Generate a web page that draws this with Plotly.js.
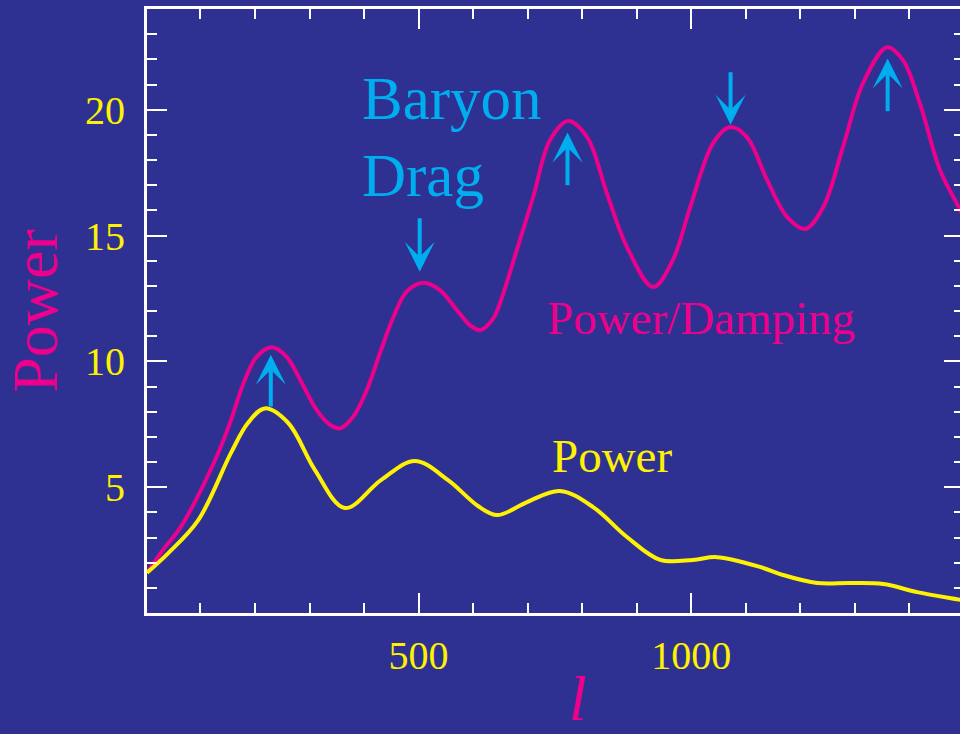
<!DOCTYPE html>
<html><head><meta charset="utf-8">
<script src="https://cdn.plot.ly/plotly-3.0.1.min.js"></script>
<style>html,body{margin:0;padding:0;overflow:hidden;background:#2e3192;width:960px;height:734px}</style>
</head><body><div id="chart" style="width:964px;height:734px"></div>
<script>
// Power / Damping curve (magenta)
const ellDamped = [2, 31, 64, 127, 154, 179, 203, 231, 258, 283, 313, 338, 356, 380, 405, 429, 454, 478, 509, 539, 570, 594, 613, 637, 649, 680, 710, 741, 774, 809, 845, 882, 930, 966, 998, 1040, 1071, 1102, 1139, 1176, 1209, 1242, 1278, 1315, 1359, 1388, 1419, 1456, 1493, 1500];
const powerDamped = [1.6, 2.5, 3.42, 6.08, 7.54, 9.13, 10.18, 10.56, 10.18, 9.26, 8.07, 7.47, 7.34, 7.80, 8.86, 10.32, 11.77, 12.77, 13.12, 12.83, 12.04, 11.44, 11.24, 11.71, 12.30, 14.42, 16.53, 18.79, 19.55, 18.91, 16.69, 14.54, 12.95, 14.02, 16.13, 18.67, 19.31, 18.91, 17.20, 15.73, 15.26, 16.13, 18.51, 21.06, 22.48, 21.97, 20.26, 17.60, 16.02, 15.7];
// Power curve (yellow)
const ellPower = [2, 41, 96, 156, 187, 218, 261, 310, 365, 431, 493, 554, 609, 644, 699, 759, 820, 882, 943, 1003, 1047, 1126, 1168, 1231, 1291, 1352, 1414, 1493, 1500];
const power = [1.6, 2.38, 3.69, 6.36, 7.55, 8.13, 7.55, 5.68, 4.17, 5.28, 6.04, 5.28, 4.25, 3.89, 4.41, 4.85, 4.21, 3.02, 2.11, 2.11, 2.22, 1.83, 1.51, 1.19, 1.19, 1.15, 0.83, 0.52, 0.49];
// tick labels
const xTickVals = [500, 1000];
const yTickVals = [5, 10, 15, 20];
// arrow markers at the peaks (l, tip value, tail value)
const arrowL = [229, 502, 773, 1072, 1360];
const arrowTip = [10.26, 13.56, 19.09, 19.40, 22.03];
const arrowTail = [8.15, 15.75, 16.94, 21.55, 19.88];

const MAG = '#ec008c', YEL = '#fff200', CYAN = '#00aeef', BG = '#2e3192';
const FONT = 'Liberation Serif, Times New Roman, serif';

const traces = [
  {x: ellDamped, y: powerDamped, type: 'scatter', mode: 'lines', name: 'Power/Damping',
   line: {color: MAG, width: 4, shape: 'spline', smoothing: 1}},
  {x: ellPower, y: power, type: 'scatter', mode: 'lines', name: 'Power',
   line: {color: YEL, width: 4, shape: 'spline', smoothing: 1}}
];

const annotations = arrowL.map((l, i) => ({
  x: l, y: arrowTip[i], ax: l, ay: arrowTail[i], axref: 'x', ayref: 'y', xref: 'x', yref: 'y',
  text: '', showarrow: true, arrowhead: 3, arrowsize: 1.25, arrowwidth: 4, arrowcolor: CYAN, standoff: 0
}));
annotations.push(
  {x: 392, y: 20.46, xref: 'x', yref: 'y', text: 'Baryon', showarrow: false, xanchor: 'left', yanchor: 'middle',
   font: {family: FONT, size: 61, color: CYAN}},
  {x: 392, y: 17.40, xref: 'x', yref: 'y', text: 'Drag', showarrow: false, xanchor: 'left', yanchor: 'middle',
   font: {family: FONT, size: 61, color: CYAN}},
  {x: 1018, y: 11.72, xref: 'x', yref: 'y', text: 'Power/Damping', showarrow: false, xanchor: 'center', yanchor: 'middle',
   font: {family: FONT, size: 47, color: MAG}},
  {x: 854, y: 6.22, xref: 'x', yref: 'y', text: 'Power', showarrow: false, xanchor: 'center', yanchor: 'middle',
   font: {family: FONT, size: 47, color: YEL}},
  // x-axis title "l"
  {x: 792, y: -0.142, xref: 'x', yref: 'paper', text: '<i>l</i>', showarrow: false, xanchor: 'center', yanchor: 'middle',
   font: {family: FONT, size: 64, color: MAG}}
);

const axisCommon = {
  ticks: 'inside', ticklen: 20, tickwidth: 2, tickcolor: '#ffffff',
  showline: true, linecolor: '#ffffff', linewidth: 3, mirror: 'allticks',
  showgrid: false, zeroline: false,
  tickfont: {family: FONT, size: 40, color: YEL}
};

const layout = {
  width: 964, height: 734,
  margin: {l: 147, r: 0, t: 9, b: 121, pad: 0},
  paper_bgcolor: BG, plot_bgcolor: BG, showlegend: false,
  font: {family: FONT, color: YEL},
  xaxis: Object.assign({}, axisCommon, {
    range: [2, 1500], tickmode: 'array', tickvals: xTickVals, ticklabelstandoff: 5,
    minor: {tickmode: 'linear', tick0: 0, dtick: 100, ticks: 'inside', ticklen: 10, tickwidth: 2, tickcolor: '#ffffff', showgrid: false}
  }),
  yaxis: Object.assign({}, axisCommon, {
    range: [0, 24], tickmode: 'array', tickvals: yTickVals, ticklabelstandoff: 11,
    minor: {tickmode: 'linear', tick0: 0, dtick: 1, ticks: 'inside', ticklen: 10, tickwidth: 2, tickcolor: '#ffffff', showgrid: false},
    title: {text: 'Power', font: {family: FONT, size: 64, color: MAG}, standoff: 15}
  }),
  annotations: annotations
};

Plotly.newPlot('chart', traces, layout, {displayModeBar: false, staticPlot: true});
</script></body></html>
